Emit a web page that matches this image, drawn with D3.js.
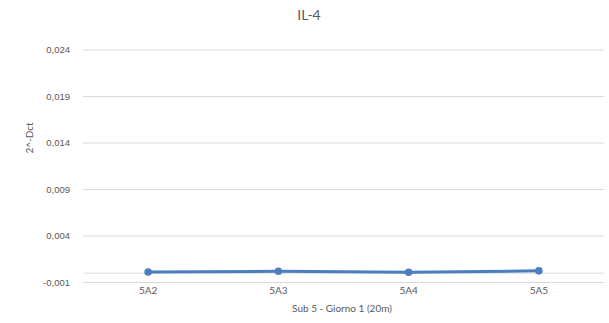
<!DOCTYPE html>
<html>
<head>
<meta charset="utf-8">
<script src="https://cdn.jsdelivr.net/npm/d3@7"></script>
<style>
  html, body { margin: 0; padding: 0; background: #fff; }
  svg { display: block; font-family: "Lato", "Open Sans", sans-serif; }
</style>
</head>
<body>
<svg id="chart" width="609" height="323"></svg>
<script>
// IL-4 expression, Sub 5 - Giorno 1 (20m)
const categories = ["5A2", "5A3", "5A4", "5A5"];
const values = [0.00008, 0.00015, 0.00005, 0.0002];
const yTicks = [-0.001, 0.004, 0.009, 0.014, 0.019, 0.024];
const yTickLabels = ["-0,001", "0,004", "0,009", "0,014", "0,019", "0,024"];

const svg = d3.select("#chart");
const margin = { left: 83, right: 5, top: 49.5, bottom: 41 };
const W = 609, H = 323;

const x = d3.scaleBand()
  .domain(categories)
  .range([margin.left, W - margin.right]);

const y = d3.scaleLinear()
  .domain([-0.001, 0.024])
  .range([H - margin.bottom, margin.top]);

// horizontal gridlines
const yAxis = d3.axisLeft(y)
  .tickValues(yTicks)
  .tickFormat((d, i) => yTickLabels[i])
  .tickSize(-(W - margin.left - margin.right))
  .tickPadding(13);

const gy = svg.append("g")
  .attr("transform", `translate(${margin.left},0)`)
  .call(yAxis);
gy.select(".domain").remove();
gy.selectAll(".tick line").attr("stroke", "#d9d9d9").attr("stroke-width", 1);
gy.selectAll(".tick text")
  .attr("fill", "#595959")
  .attr("font-size", 9.5);

// category axis crossing at zero
const xAxis = d3.axisBottom(x).tickSize(0).tickPadding(0);
const gx = svg.append("g")
  .attr("transform", `translate(0,${y(0)})`)
  .call(xAxis);
gx.select(".domain").attr("stroke", "#d9d9d9").attr("stroke-width", 1);
gx.selectAll(".tick text").remove();

// category labels below the plot
svg.append("g")
  .selectAll("text")
  .data(categories)
  .join("text")
  .attr("x", d => x(d) + x.bandwidth() / 2)
  .attr("y", 294)
  .attr("text-anchor", "middle")
  .attr("fill", "#595959")
  .attr("font-size", 10)
  .text(d => d);

// series line
const line = d3.line()
  .x((d, i) => x(categories[i]) + x.bandwidth() / 2)
  .y(d => y(d));

svg.append("path")
  .datum(values)
  .attr("fill", "none")
  .attr("stroke", "#4a7ebf")
  .attr("stroke-width", 3)
  .attr("stroke-linejoin", "round")
  .attr("d", line);

svg.append("g")
  .selectAll("circle")
  .data(values)
  .join("circle")
  .attr("cx", (d, i) => x(categories[i]) + x.bandwidth() / 2)
  .attr("cy", d => y(d))
  .attr("r", 3.8)
  .attr("fill", "#4a7ebf");

// titles
svg.append("text")
  .attr("x", 309)
  .attr("y", 20)
  .attr("text-anchor", "middle")
  .attr("fill", "#595959")
  .attr("font-size", 14)
  .text("IL-4");

svg.append("text")
  .attr("x", 342)
  .attr("y", 312)
  .attr("text-anchor", "middle")
  .attr("fill", "#595959")
  .attr("font-size", 10)
  .text("Sub 5 - Giorno 1 (20m)");

svg.append("text")
  .attr("transform", "translate(33,138) rotate(-90)")
  .attr("text-anchor", "middle")
  .attr("fill", "#595959")
  .attr("font-size", 10)
  .text("2^-Dct");
</script>
</body>
</html>
